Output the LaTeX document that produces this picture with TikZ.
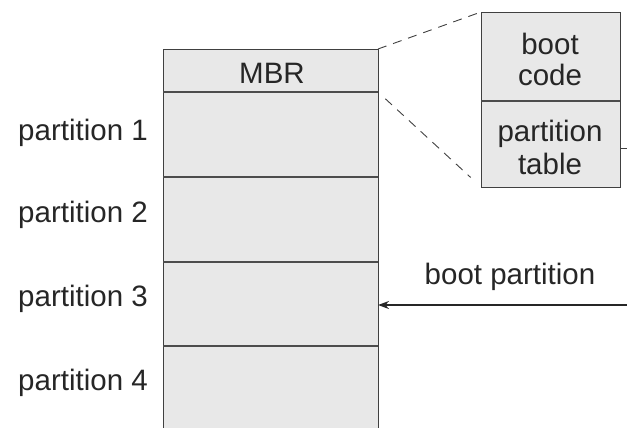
\documentclass[tikz,border=0pt]{standalone}
\usepackage{fontspec}
\setmainfont{Liberation Sans}
\usetikzlibrary{arrows.meta}
\begin{document}
\begin{tikzpicture}[x=1pt,y=-1pt,
  every node/.style={font=\fontsize{29.5}{31}\selectfont, text=black!85},
  sect/.style={draw=none, fill=black!9, minimum width=215pt, inner sep=0pt, outer sep=0pt},
  rsect/.style={draw=none, fill=black!9, minimum width=139pt, inner sep=0pt, outer sep=0pt},
  divline/.style={line width=1.1pt, draw=black!70},
  edge/.style={line width=0.9pt, draw=black!75},
  lbl/.style={anchor=east, inner sep=0pt},
  zoomline/.style={dashed, dash pattern=on 9pt off 7pt, line width=0.9pt, draw=black!75}
]
\useasboundingbox (0,0) rectangle (627,428);
% left column
\node[sect, minimum height=43pt] (mbr) at (270.5,70.5) {};
\node[sect, minimum height=85pt] (p1) at (270.5,134.5) {};
\node[sect, minimum height=85pt] (p2) at (270.5,219.5) {};
\node[sect, minimum height=84pt] (p3) at (270.5,304) {};
\node[sect, minimum height=82pt] (p4) at (270.5,387) {};
\node (mbrtext) at (272,73) {MBR};
\draw[edge] (p4.south west) -- (mbr.north west) -- (mbr.north east) -- (p4.south east);
\draw[divline] (mbr.south west) -- (mbr.south east);
\draw[divline] (p1.south west) -- (p1.south east);
\draw[divline] (p2.south west) -- (p2.south east);
\draw[divline] (p3.south west) -- (p3.south east);
% labels
\node[lbl] (l1) at (148,133) {partition 1};
\node[lbl] (l2) at (148,215) {partition 2};
\node[lbl] (l3) at (148,299) {partition 3};
\node[lbl] (l4) at (148,383) {partition 4};
% right box
\node[rsect, minimum height=89pt] (bc) at (550.5,56.5) {};
\node[rsect, minimum height=86pt] (pt) at (550.5,144) {};
\draw[edge] (bc.north west) rectangle (pt.south east);
\draw[divline] (bc.south west) -- (bc.south east);
\node (boot) at (550,44) {boot};
\node (code) at (550,75) {code};
\node (part) at (550,134) {partition};
\node (tab) at (550,164) {table};
% zoom lines
\draw[zoomline] (mbr.north east) -- (bc.north west);
\draw[zoomline, shorten <=10pt, shorten >=14pt] (mbr.south east) -- (pt.south west);
% tick out of partition table
\coordinate (tickend) at (627,148);
\draw[edge] (pt.east |- tickend) -- (tickend);
% boot partition arrow
\coordinate (arrstart) at (627,305);
\draw[line width=1.6pt, draw=black!85, -{Stealth[length=11pt,width=8pt]}] (arrstart) -- (p3.east |- arrstart);
\node (bp) at (510,277) {boot partition};
\end{tikzpicture}
\end{document}
